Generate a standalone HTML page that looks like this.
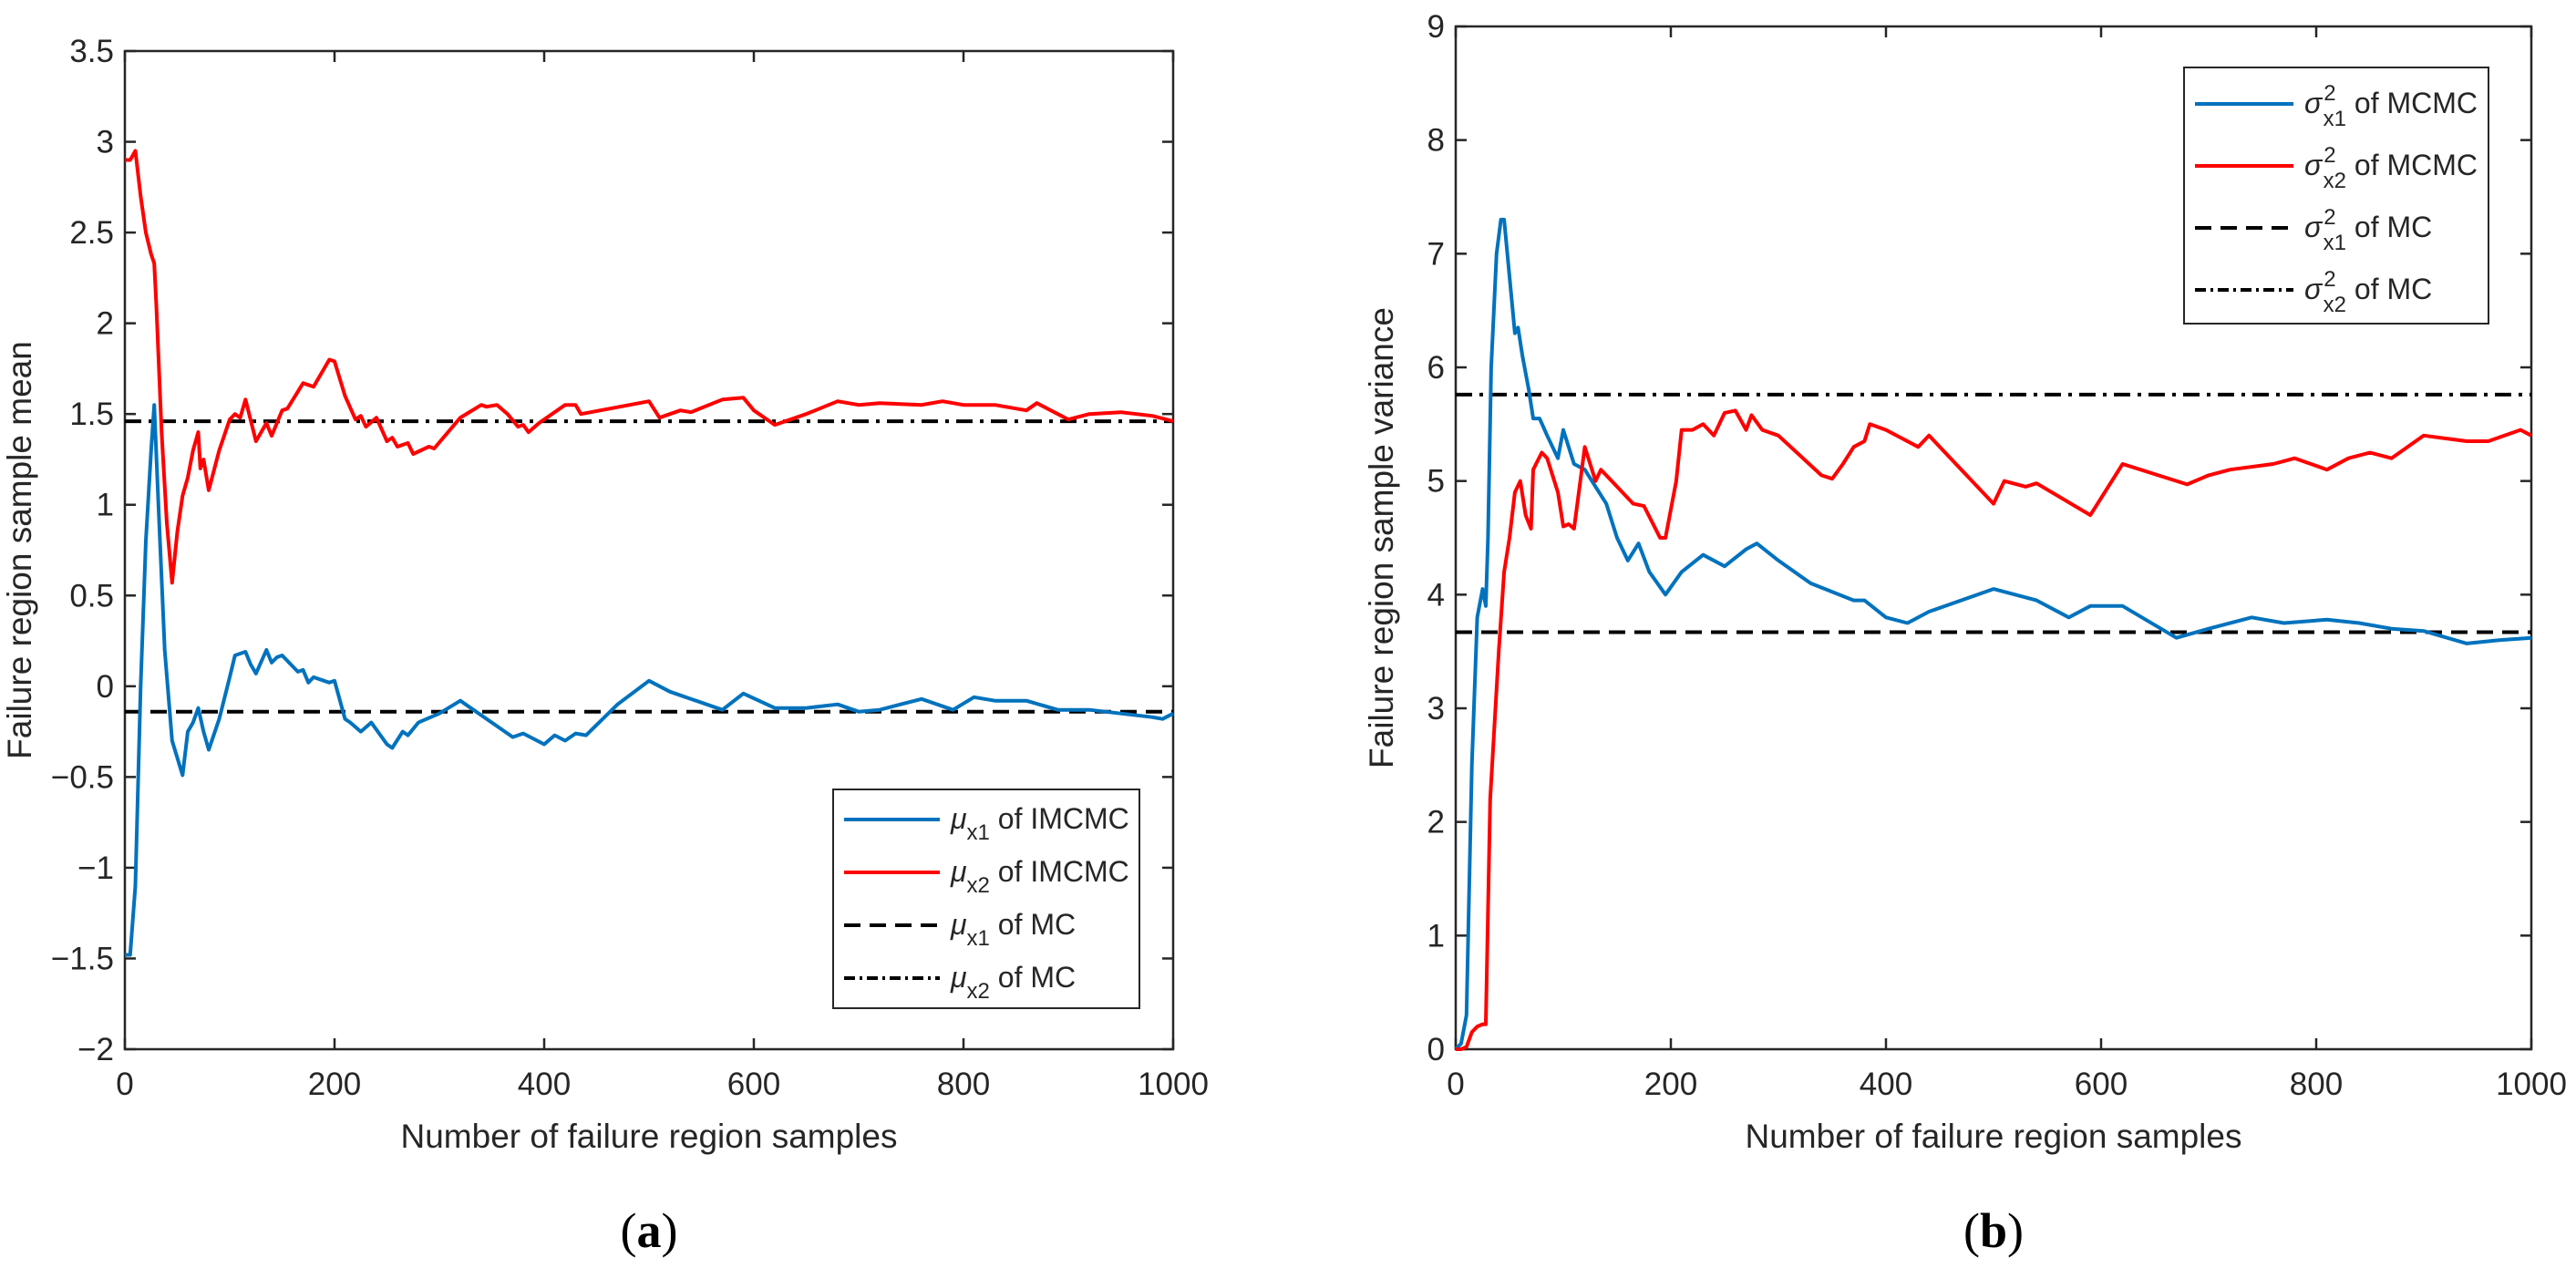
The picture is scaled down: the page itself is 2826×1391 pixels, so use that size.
<!DOCTYPE html>
<html><head><meta charset="utf-8"><style>
html,body{margin:0;padding:0;background:#fff;}
svg{display:block;font-family:"Liberation Sans",sans-serif;}
</style></head><body>
<svg id="fig" width="2826" height="1391" viewBox="0 0 2826 1391" xmlns="http://www.w3.org/2000/svg"></svg>
<script>
// ---- Panel (a) data ----
const aX1 = [0,5,10,15,20,25,28,32,38,45,55,60,65,70,75,80,90,100,105,110,115,120,125,135,140,145,150,165,170,175,180,195,200,210,215,225,235,250,255,265,270,280,300,320,330,355,370,380,400,410,420,430,440,470,500,520,530,570,590,620,650,680,700,720,740,760,790,810,830,860,890,920,950,980,990,1000];
const aMu1 = [-1.48,-1.48,-1.1,0,0.8,1.3,1.55,1.0,0.2,-0.3,-0.49,-0.25,-0.2,-0.12,-0.25,-0.35,-0.18,0.05,0.17,0.18,0.19,0.12,0.07,0.2,0.13,0.16,0.17,0.08,0.09,0.02,0.05,0.02,0.03,-0.18,-0.2,-0.25,-0.2,-0.32,-0.34,-0.25,-0.27,-0.2,-0.15,-0.08,-0.12,-0.22,-0.28,-0.26,-0.32,-0.27,-0.3,-0.26,-0.27,-0.1,0.03,-0.03,-0.05,-0.13,-0.04,-0.12,-0.12,-0.1,-0.14,-0.13,-0.1,-0.07,-0.13,-0.06,-0.08,-0.08,-0.13,-0.13,-0.15,-0.17,-0.18,-0.15];
const aX2 = [0,5,10,15,20,25,28,30,35,40,45,50,55,60,65,70,72,75,80,90,100,105,110,115,125,135,140,150,155,170,175,180,195,200,210,220,225,230,240,250,255,260,270,275,290,295,320,340,345,355,365,375,380,385,395,420,430,435,500,510,530,540,570,590,600,620,650,680,700,720,760,780,800,830,860,870,900,920,950,980,1000];
const aMu2 = [2.9,2.9,2.95,2.7,2.5,2.38,2.33,2.1,1.4,0.9,0.57,0.85,1.05,1.15,1.3,1.4,1.2,1.25,1.08,1.3,1.47,1.5,1.48,1.58,1.35,1.45,1.38,1.52,1.53,1.67,1.66,1.65,1.8,1.79,1.6,1.47,1.49,1.43,1.48,1.35,1.37,1.32,1.34,1.28,1.32,1.31,1.48,1.55,1.54,1.55,1.5,1.43,1.44,1.4,1.45,1.55,1.55,1.5,1.57,1.48,1.52,1.51,1.58,1.59,1.52,1.44,1.5,1.57,1.55,1.56,1.55,1.57,1.55,1.55,1.52,1.56,1.47,1.5,1.51,1.49,1.46];
const aMC = [-0.14, 1.46];
const aYTicks = [-2,-1.5,-1,-0.5,0,0.5,1,1.5,2,2.5,3,3.5];
const aYLabels = ["\u22122","\u22121.5","\u22121","\u22120.5","0","0.5","1","1.5","2","2.5","3","3.5"];
// ---- Panel (b) data ----
const bX1 = [0,5,10,15,20,25,28,30,33,38,42,45,50,55,58,62,68,72,78,85,95,100,110,120,130,140,150,160,170,180,195,210,230,250,270,280,300,330,370,380,400,420,440,500,540,570,590,620,670,700,740,770,810,840,870,900,940,970,1000];
const bVar1 = [0,0.05,0.3,2.5,3.8,4.05,3.9,4.5,6.0,7.0,7.3,7.3,6.8,6.3,6.35,6.1,5.8,5.55,5.55,5.4,5.2,5.45,5.15,5.1,4.95,4.8,4.5,4.3,4.45,4.2,4.0,4.2,4.35,4.25,4.4,4.45,4.3,4.1,3.95,3.95,3.8,3.75,3.85,4.05,3.95,3.8,3.9,3.9,3.62,3.7,3.8,3.75,3.78,3.75,3.7,3.68,3.57,3.6,3.62];
const bX2 = [0,5,10,15,20,25,28,32,40,45,50,55,60,65,70,72,80,85,95,100,105,110,120,130,135,150,165,175,190,195,205,210,220,230,240,250,260,270,275,285,300,340,350,360,370,380,385,400,430,440,500,510,530,540,590,600,620,680,700,720,760,780,810,830,850,870,900,940,960,990,1000];
const bVar2 = [0,0,0.02,0.15,0.2,0.22,0.22,2.2,3.5,4.2,4.5,4.9,5.0,4.7,4.58,5.1,5.25,5.2,4.9,4.6,4.62,4.58,5.3,5.0,5.1,4.95,4.8,4.78,4.5,4.5,5.0,5.45,5.45,5.5,5.4,5.6,5.62,5.45,5.58,5.45,5.4,5.05,5.02,5.15,5.3,5.35,5.5,5.45,5.3,5.4,4.8,5.0,4.95,4.98,4.7,4.85,5.15,4.97,5.05,5.1,5.15,5.2,5.1,5.2,5.25,5.2,5.4,5.35,5.35,5.45,5.4];
const bMC = [3.67, 5.76];
const bYTicks = [0,1,2,3,4,5,6,7,8,9];
const xTicks = [0,200,400,600,800,1000];

const NS = "http://www.w3.org/2000/svg";
const svg = document.getElementById('fig');
function mk(tag, attrs, parent){ const e=document.createElementNS(NS,tag); for(const k in attrs) e.setAttribute(k,attrs[k]); (parent||svg).appendChild(e); return e; }

function panel(cfg){
  const g = mk('g',{});
  
  
  const L=cfg.L,R=cfg.R,T=cfg.T,B=cfg.B;
  const sx = v => L + (v-0)/(1000-0)*(R-L);
  const sy = v => B - (v-cfg.ymin)/(cfg.ymax-cfg.ymin)*(B-T);
  const box = mk('rect',{x:L,y:T,width:R-L,height:B-T,fill:'none',stroke:'#262626','stroke-width':2.5},g);
  
  
  xTicks.forEach(v=>{
    const x=sx(v);
    mk('line',{x1:x,y1:B,x2:x,y2:B-12,stroke:'#262626','stroke-width':2.5},g);
    mk('line',{x1:x,y1:T,x2:x,y2:T+12,stroke:'#262626','stroke-width':2.5},g);
    const t=mk('text',{x:x,y:B+50,'text-anchor':'middle','font-size':35,fill:'#262626'},g);
    t.textContent=String(v);
    
    
  });
  cfg.yTicks.forEach((v,i)=>{
    const y=sy(v);
    mk('line',{x1:L,y1:y,x2:L+12,y2:y,stroke:'#262626','stroke-width':2.5},g);
    mk('line',{x1:R,y1:y,x2:R-12,y2:y,stroke:'#262626','stroke-width':2.5},g);
    const t=mk('text',{x:L-12,y:y+12,'text-anchor':'end','font-size':35,fill:'#262626'},g);
    t.textContent=cfg.yLabels[i];
    
    
  });
  const d1=mk('line',{x1:L,y1:sy(cfg.mc[0]),x2:R,y2:sy(cfg.mc[0]),stroke:'#000','stroke-width':4,'stroke-dasharray':'18 10'},g);
  
  
  const d2=mk('line',{x1:L,y1:sy(cfg.mc[1]),x2:R,y2:sy(cfg.mc[1]),stroke:'#000','stroke-width':4,'stroke-dasharray':'18 8 4 8'},g);
  
  
  cfg.series.forEach(s=>{
    const pts=s.x.map((v,i)=>sx(v).toFixed(1)+','+sy(s.y[i]).toFixed(1)).join(' ');
    const p=mk('polyline',{points:pts,fill:'none',stroke:s.color,'stroke-width':4,'stroke-linejoin':'round'},g);
    
    
  });
  const xl=mk('text',{x:(L+R)/2,y:B+108,'text-anchor':'middle','font-size':37,fill:'#262626'},g);
  xl.textContent='Number of failure region samples';
  
  
  const yl=mk('text',{x:0,y:0,'text-anchor':'middle','font-size':37,fill:'#262626',transform:`translate(${cfg.ylx},${(T+B)/2}) rotate(-90)`},g);
  yl.textContent=cfg.ytitle;
  
  
  const cap=mk('text',{x:(L+R)/2,y:1368,'text-anchor':'middle','font-size':54,'font-family':'"Liberation Serif",serif',fill:'#000'},g);
  cap.innerHTML='(<tspan font-weight="bold">'+cfg.cap+'</tspan>)';
  
  
  const lg=mk('g',{},g);
  
  
  const Lg=cfg.leg;
  mk('rect',{x:Lg.x,y:Lg.y,width:Lg.w,height:Lg.h,fill:'#fff',stroke:'#262626','stroke-width':2},lg);
  const styles=[{c:'#0072BD',d:''},{c:'#FF0000',d:''},{c:'#000',d:'18 10'},{c:'#000',d:'12 5 3 5'}];
  cfg.legTexts.forEach((tx,i)=>{
    const e=mk('g',{},lg);
    
    
    const y=Lg.y+Lg.pad+i*Lg.step;
    const a={x1:Lg.x+12,y1:y,x2:Lg.x+12+Lg.lineW,y2:y,stroke:styles[i].c,'stroke-width':4};
    if(styles[i].d) a['stroke-dasharray']=styles[i].d;
    mk('line',a,e);
    const t=mk('text',{x:Lg.x+Lg.lineW+24,y:y+10,'font-size':32,fill:'#262626'},e);
    t.innerHTML=tx;
  });
}

panel({name:'panel-a-mean',L:137,R:1287,T:56,B:1151,ymin:-2,ymax:3.5,yTicks:aYTicks,yLabels:aYLabels,mc:aMC,
  ylx:34,ytitle:'Failure region sample mean',cap:'a',
  series:[{x:aX1,y:aMu1,color:'#0072BD',name:'mu-x1-imcmc-line'},{x:aX2,y:aMu2,color:'#FF0000',name:'mu-x2-imcmc-line'}],
  leg:{x:914,y:866,w:336,h:240,pad:33,step:58,lineW:105},
  legTexts:['<tspan font-style="italic">μ</tspan><tspan font-size="24" dy="12">x1</tspan><tspan dy="-12"> of IMCMC</tspan>',
            '<tspan font-style="italic">μ</tspan><tspan font-size="24" dy="12">x2</tspan><tspan dy="-12"> of IMCMC</tspan>',
            '<tspan font-style="italic">μ</tspan><tspan font-size="24" dy="12">x1</tspan><tspan dy="-12"> of MC</tspan>',
            '<tspan font-style="italic">μ</tspan><tspan font-size="24" dy="12">x2</tspan><tspan dy="-12"> of MC</tspan>']
});
panel({name:'panel-b-variance',L:1597,R:2777,T:29,B:1151,ymin:0,ymax:9,yTicks:bYTicks,yLabels:bYTicks.map(String),mc:bMC,
  ylx:1528,ytitle:'Failure region sample variance',cap:'b',
  series:[{x:bX1,y:bVar1,color:'#0072BD',name:'var-x1-mcmc-line'},{x:bX2,y:bVar2,color:'#FF0000',name:'var-x2-mcmc-line'}],
  leg:{x:2396,y:74,w:334,h:281,pad:40,step:68,lineW:108},
  legTexts:['<tspan font-style="italic">σ</tspan><tspan font-size="24" dx="2" dy="-14">2</tspan><tspan font-size="24" dx="-14" dy="28">x1</tspan><tspan dy="-14"> of MCMC</tspan>',
            '<tspan font-style="italic">σ</tspan><tspan font-size="24" dx="2" dy="-14">2</tspan><tspan font-size="24" dx="-14" dy="28">x2</tspan><tspan dy="-14"> of MCMC</tspan>',
            '<tspan font-style="italic">σ</tspan><tspan font-size="24" dx="2" dy="-14">2</tspan><tspan font-size="24" dx="-14" dy="28">x1</tspan><tspan dy="-14"> of MC</tspan>',
            '<tspan font-style="italic">σ</tspan><tspan font-size="24" dx="2" dy="-14">2</tspan><tspan font-size="24" dx="-14" dy="28">x2</tspan><tspan dy="-14"> of MC</tspan>']
});
</script>
</body></html>
